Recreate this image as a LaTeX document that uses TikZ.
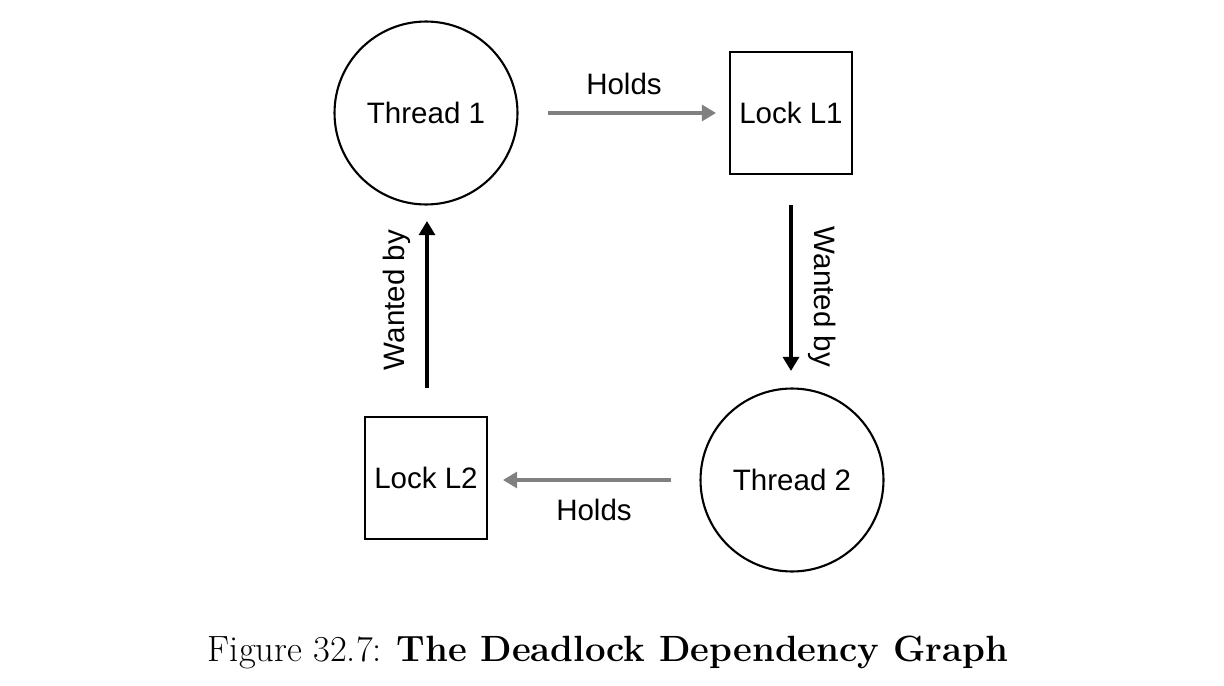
\documentclass[tikz,border=0pt]{standalone}
\usepackage{fontspec}
\newfontfamily\arialfont{Liberation Sans}
\usetikzlibrary{arrows.meta}
\begin{document}
\begin{tikzpicture}[x=0.02cm, y=-0.02cm]
\tikzstyle{threadnode} = [
  shape=circle,
  draw, line width=1.2pt,
  minimum size=3.66cm,
  inner sep=0pt,
  font=\arialfont\fontsize{16.8}{20}\selectfont
]
\tikzstyle{locknode} = [
  shape=rectangle,
  draw, line width=1.2pt,
  minimum size=2.44cm,
  inner sep=0pt,
  font=\arialfont\fontsize{16.8}{20}\selectfont
]
\tikzstyle{holdedge} = [
  draw = black!50, line width=2.8pt,
  -{Triangle[length=8pt, width=9pt]}
]
\tikzstyle{wantedge} = [
  draw = black, line width=2.8pt,
  -{Triangle[length=8pt, width=9pt]}
]
\tikzstyle{edgelabel} = [
  font=\arialfont\fontsize{16.8}{20}\selectfont
]

\useasboundingbox (0,0) rectangle (1224,686);

\node [threadnode] (t1) at (426,113) {Thread 1};
\node [locknode] (l1) at (791,113) {Lock L1};
\node [threadnode] (t2) at (792,480) {Thread 2};
\node [locknode] (l2) at (426,478) {Lock L2};

\coordinate (h1s) at (548,113);
\coordinate (h1e) at (716,113);
\coordinate (w1s) at (791,205);
\coordinate (w1e) at (791,371);
\coordinate (h2s) at (671,480);
\coordinate (h2e) at (503,480);
\coordinate (w2s) at (427,388);
\coordinate (w2e) at (427,221);

\draw[holdedge] (h1s) -- (h1e);
\draw[wantedge] (w1s) -- (w1e);
\draw[holdedge] (h2s) -- (h2e);
\draw[wantedge] (w2s) -- (w2e);

\node [edgelabel] (hl1) at (624,84) {Holds};
\node [edgelabel, rotate=-90] (wl1) at (822,297) {Wanted by};
\node [edgelabel] (hl2) at (594,510) {Holds};
\node [edgelabel, rotate=90] (wl2) at (397,300) {Wanted by};

\node (cap) at (608,652) {\fontsize{20.8}{25}\selectfont Figure 32.7: \textbf{The Deadlock Dependency Graph}};

\end{tikzpicture}
\end{document}
